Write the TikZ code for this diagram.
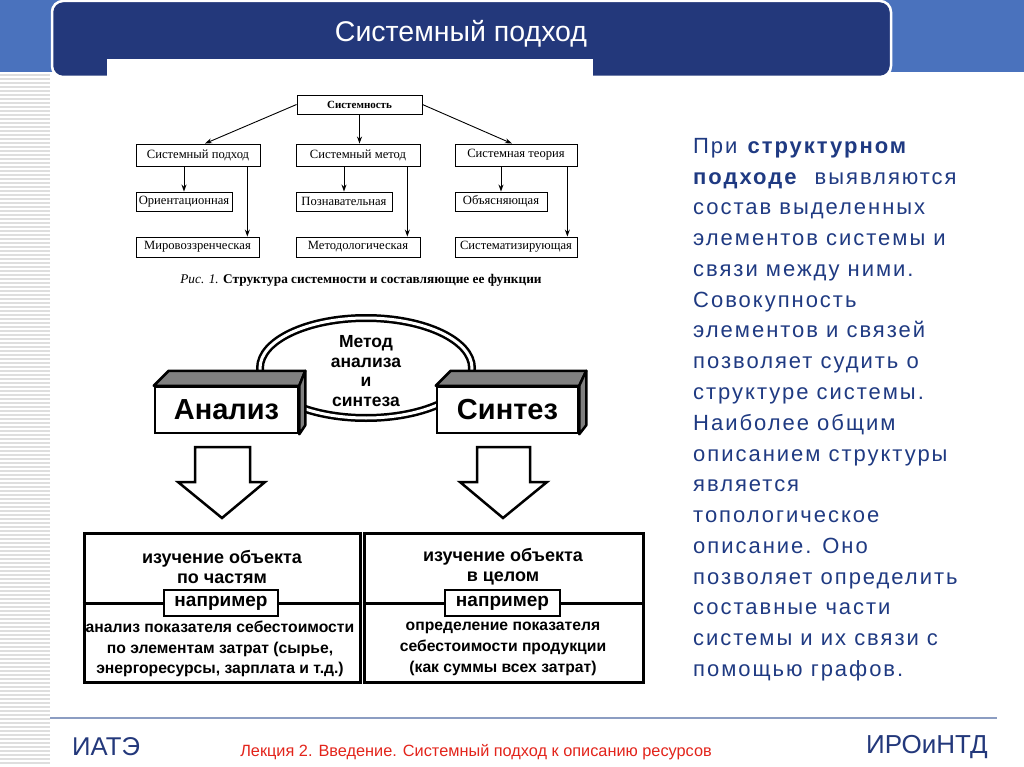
\documentclass[tikz,border=0pt]{standalone}
\usepackage{fontspec}
\setmainfont{Liberation Sans}
\newfontfamily\serf{Liberation Serif}
\newfontfamily\spacedf[LetterSpace=9]{Liberation Sans}
\usetikzlibrary{arrows.meta,calc}
\definecolor{navy}{HTML}{23387B}
\definecolor{lblue}{HTML}{4A72BD}
\definecolor{stripe}{HTML}{DEDEDE}
\definecolor{txtblue}{HTML}{1F3A82}
\definecolor{fred}{HTML}{E3241B}
\definecolor{fline}{HTML}{8C9DC2}
\definecolor{boxgray}{HTML}{808080}
\begin{document}
\begin{tikzpicture}[x=1pt,y=-1pt,
  tbox/.style={draw, line width=0.9, inner sep=0, font=\serf\fontsize{12.6}{13}\selectfont},
  arr/.style={-{Stealth[length=7pt,width=5pt]}, line width=0.9},
  bigbox/.style={draw, line width=2.5, fill=white, inner sep=0, font=\bfseries\fontsize{29}{30}\selectfont},
  face/.style={fill=boxgray, draw, line width=2.5, line join=round},
  hollow/.style={draw, line width=2.5, fill=white, line join=miter},
  outbox/.style={draw, line width=3, inner sep=0},
  exbox/.style={draw, line width=2.5, fill=white, inner sep=0, font=\bfseries\fontsize{19}{20}\selectfont},
  toptxt/.style={align=center, inner sep=0, font=\bfseries\fontsize{18}{20}\selectfont},
  bottxt/.style={align=center, inner sep=0, font=\bfseries\fontsize{15.7}{20.7}\selectfont}
]
\useasboundingbox (0,0) rectangle (1024,767);
\fill[white] (0,0) rectangle (1024,767);
% left stripes
\foreach \yy in {75,79,...,766} \draw[stripe, line width=1.6] (0,\yy) -- (50,\yy);
% header
\fill[lblue] (0,0) rectangle (1024,72);
\draw[fill=navy, draw=white, line width=2.5, rounded corners=11] (52,1) rectangle (891,77);
\fill[white] (107,59) rectangle (593,79);
\node[text=white, inner sep=0, font=\fontsize{28.5}{30}\selectfont] (title) at (461,34) {Системный подход};

% ---------- top diagram ----------
\node[tbox, minimum width=125, minimum height=19, font=\serf\bfseries\fontsize{11}{12}\selectfont] (sys) at (359.5,104.5) {Системность};
\node[tbox, minimum width=124, minimum height=22] (sp) at (198,155) {Системный подход};
\node[tbox, minimum width=124, minimum height=22] (sm) at (358,155) {Системный метод};
\node[tbox, minimum width=122, minimum height=22] (st) at (516,155) {Системная теория};
\node[tbox, minimum width=96, minimum height=19] (or) at (184,201.5) {Ориентационная};
\node[tbox, minimum width=96, minimum height=19] (pz) at (344,201.5) {Познавательная};
\node[tbox, minimum width=92, minimum height=19] (ob) at (501,201.5) {Объясняющая};
\node[tbox, minimum width=123, minimum height=20] (mv) at (197.5,247) {Мировоззренческая};
\node[tbox, minimum width=124, minimum height=20] (ml) at (358,247) {Методологическая};
\node[tbox, minimum width=122, minimum height=20] (sz) at (516,247) {Систематизирующая};

\draw[arr] (sys.west) -- ($(sp.north west)!0.556!(sp.north east)$);
\draw[arr] (sys.south) -- (sys.south |- sm.north);
\draw[arr] (sys.east) -- ($(st.north west)!0.467!(st.north east)$);

\draw[arr] (sp.south -| or.north) -- (or.north);
\coordinate (c1) at ($(sp.south west)!0.895!(sp.south east)$);
\draw[arr] (c1) -- (c1 |- mv.north);
\draw[arr] (sm.south -| pz.north) -- (pz.north);
\coordinate (c2) at ($(sm.south west)!0.895!(sm.south east)$);
\draw[arr] (c2) -- (c2 |- ml.north);
\draw[arr] (st.south -| ob.north) -- (ob.north);
\coordinate (c3) at ($(st.south west)!0.918!(st.south east)$);
\draw[arr] (c3) -- (c3 |- sz.north);

\node[inner sep=0, font=\serf\fontsize{13.3}{14}\selectfont] (cap) at (361,280) {\textit{Рис. 1.} \textbf{Структура системности и составляющие ее функции}};

% ---------- analysis / synthesis ----------
\fill[white] (366,368) ellipse [x radius=106, y radius=50];
\draw[line width=8] (366,368) ellipse [x radius=106, y radius=50];
\draw[white, line width=3] (366,368) ellipse [x radius=106, y radius=50];
\node[align=center, inner sep=0, font=\bfseries\fontsize{17.5}{19.7}\selectfont] (met) at (366,371) {Метод\\анализа\\и\\синтеза};

\node[bigbox, minimum width=143, minimum height=46] (an) at (226.5,410) {Анализ};
\draw[face] (an.north west) -- ++(15,-15) -- ($(an.north east)+(6,-15)$) -- (an.north east) -- cycle;
\draw[face] (an.north east) -- ++(6,-15) -- ($(an.south east)+(6,-9)$) -- (an.south east) -- cycle;

\node[bigbox, minimum width=141, minimum height=46] (sy) at (507.5,410) {Синтез};
\draw[face] (sy.north west) -- ++(15,-15) -- ($(sy.north east)+(7,-15)$) -- (sy.north east) -- cycle;
\draw[face] (sy.north east) -- ++(7,-15) -- ($(sy.south east)+(7,-9)$) -- (sy.south east) -- cycle;

\draw[hollow] (195,447) -- (250,447) -- (250,482) -- (265,482) -- (222,518) -- (178,482) -- (195,482) -- cycle;
\draw[hollow] (477,447) -- (530,447) -- (530,482) -- (547,482) -- (503,518) -- (460,482) -- (477,482) -- cycle;

% ---------- bottom boxes ----------
\node[outbox, minimum width=276, minimum height=149] (lb) at (222,607.5) {};
\node[outbox, minimum width=279, minimum height=149] (rb) at (503.5,607.5) {};
\coordinate (hl) at (0,603);
\draw[line width=3] (lb.west |- hl) -- (lb.east |- hl);
\draw[line width=3] (rb.west |- hl) -- (rb.east |- hl);
\node[exbox, minimum width=114, minimum height=26] (ex1) at (221,603) {например};
\node[exbox, minimum width=115, minimum height=26] (ex2) at (502.5,603) {например};
\node[toptxt] (t1) at (222,567) {изучение объекта\\по частям};
\node[toptxt] (t2) at (503,567) {изучение объекта\\в целом};
\node[bottxt] (b1) at (220,649) {анализ показателя себестоимости\\по элементам затрат (сырье,\\энергоресурсы, зарплата и т.д.)};
\node[bottxt] (b2) at (503,649) {определение показателя\\себестоимости продукции\\(как суммы всех затрат)};

% ---------- right text ----------
\node[anchor=north west, align=left, inner sep=0, text=txtblue, font=\spacedf\fontsize{22}{30.77}\selectfont] (rt) at (693,138)
{При \textbf{структурном}\\
\textbf{подходе}\ \ выявляются\\
состав выделенных\\
элементов системы и\\
связи между ними.\\
Совокупность\\
элементов и связей\\
позволяет судить о\\
структуре системы.\\
Наиболее общим\\
описанием структуры\\
является\\
топологическое\\
описание. Оно\\
позволяет определить\\
составные части\\
системы и их связи с\\
помощью графов.};

% ---------- footer ----------
\coordinate (fl1) at (50,718);
\coordinate (fl2) at (997,718);
\draw[fline, line width=1.5] (fl1) -- (fl2);
\node[anchor=west, inner sep=0, text=navy, font=\fontsize{25.7}{27}\selectfont] (iate) at (72,747) {ИАТЭ};
\node[inner sep=0, text=fred, font=\fontsize{16.3}{17}\selectfont] (lect) at (476,752) {Лекция 2. Введение. Системный подход к описанию ресурсов};
\node[anchor=east, inner sep=0, text=navy, font=\fontsize{26}{27}\selectfont] (iro) at (988,747) {ИРОиНТД};
\end{tikzpicture}
\end{document}
